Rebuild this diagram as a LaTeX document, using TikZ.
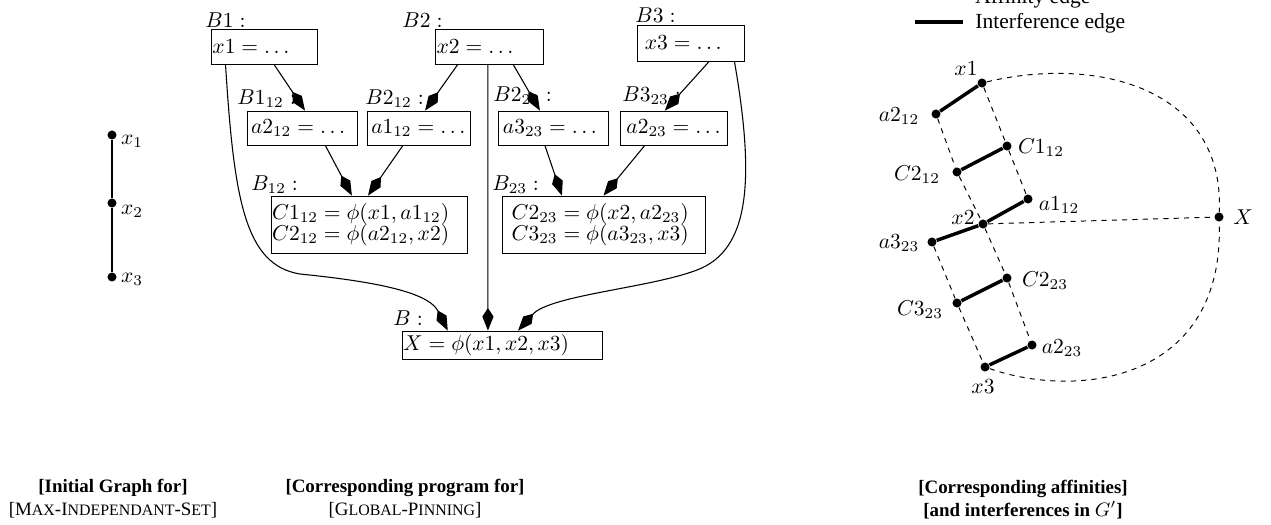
\documentclass[tikz,border=0pt]{standalone}
\usepackage{fontspec}
\setmainfont{Liberation Serif}
\usetikzlibrary{arrows.meta,calc}

\newcommand{\fsc}[1]{{\fontsize{7.4}{8}\selectfont #1}}

\tikzset{
  blk/.style={draw, line width=0.4pt, align=left, inner ysep=0pt},
  blab/.style={anchor=base west, inner sep=0pt},
  flow/.style={line width=0.5pt, -{Kite[length=10.5pt, width=5.2pt, inset=4pt]}},
  vtx/.style={circle, fill, inner sep=0pt, minimum size=4.2pt},
  vlab/.style={inner sep=0pt},
  intf/.style={line width=1.6pt},
  aff/.style={line width=0.45pt, dash pattern=on 2.4pt off 2.4pt},
  capt/.style={align=center, font=\fontsize{8.8}{10.7}\selectfont\bfseries},
}

\begin{document}
\begin{tikzpicture}[x=0.465pt, y=-0.465pt]
\useasboundingbox (0,0) rectangle (1271,524);

% initial graph
\node[vtx] (v1) at (112,135) {};
\node[vtx] (v2) at (112,203) {};
\node[vtx] (v3) at (112,277) {};
\node[vlab] (lv1) at (132,141) {$x_1$};
\node[vlab] (lv2) at (132,211) {$x_2$};
\node[vlab] (lv3) at (132,279) {$x_3$};
\draw[line width=0.9pt] (v1) -- (v2) -- (v3);

% program blocks
\node[blk, text width=47.9pt, inner xsep=0.7pt, minimum height=16.3pt] (bx1) at (264,46.5) {${x1 = \ldots}$};
\node[blk, text width=48.8pt, inner xsep=0.7pt, minimum height=16.3pt] (bx2) at (489,46.5) {${x2 = \ldots}$};
\node[blk, text width=42.4pt, inner xsep=3.7pt, minimum height=16.7pt] (bx3) at (690.5,43) {${x3 = \ldots}$};
\node[blk, text width=47.4pt, inner xsep=1.9pt, minimum height=15.8pt] (ba2) at (302,128) {${a2_{12} = \ldots}$};
\node[blk, text width=43.9pt, inner xsep=2pt, minimum height=15.8pt] (ba1) at (418.5,128) {${a1_{12} = \ldots}$};
\node[blk, text width=46.6pt, inner xsep=2.3pt, minimum height=15.8pt] (ba3) at (553,128) {${a3_{23} = \ldots}$};
\node[blk, text width=43.8pt, inner xsep=3pt, minimum height=15.8pt] (bb2) at (673.5,128) {${a2_{23} = \ldots}$};
\node[blk, text width=90.1pt, inner xsep=0.5pt, minimum height=26.5pt] (bc12) at (369,224.5)
  {${C1_{12} = \phi(x1, a1_{12})}$\\[-2.4pt] ${C2_{12} = \phi(a2_{12}, x2)}$};
\node[blk, text width=85.4pt, inner xsep=4.5pt, minimum height=26.5pt] (bc23) at (603.5,224.5)
  {${C2_{23} = \phi(x2, a2_{23})}$\\[-2.4pt] ${C3_{23} = \phi(a3_{23}, x3)}$};
\node[blk, text width=92pt, inner xsep=0.5pt, minimum height=13pt] (bX) at (502,345) {${X = \phi(x1, x2, x3)}$};

\node[blab] (lb1) at (205,27) {$B1:$};
\node[blab] (lb2) at (402,27) {$B2:$};
\node[blab] (lb3) at (635,22) {$B3:$};
\node[blab] (lb112) at (237,104) {$B1_{12}:$};
\node[blab] (lb212) at (365,104) {$B2_{12}:$};
\node[blab] (lb223) at (493,101) {$B2_{23}:$};
\node[blab] (lb323) at (622,101) {$B3_{23}:$};
\node[blab] (lb12) at (251,190) {$B_{12}:$};
\node[blab] (lb23) at (492,190) {$B_{23}:$};
\node[blab] (lb) at (393,325) {$B:$};

\draw[flow] ($(bx1.south west)!0.594!(bx1.south east)$) -- ($(ba2.north west)!0.527!(ba2.north east)$);
\draw[flow] ($(bx2.south west)!0.213!(bx2.south east)$) -- ($(ba1.north west)!0.563!(ba1.north east)$);
\draw[flow] ($(bx2.south west)!0.722!(bx2.south east)$) -- ($(ba3.north west)!0.382!(ba3.north east)$);
\draw[flow] ($(bx3.south west)!0.673!(bx3.south east)$) -- ($(bb2.north west)!0.42!(bb2.north east)$);
\draw[flow] ($(ba2.south west)!0.71!(ba2.south east)$) -- ($(bc12.north west)!0.413!(bc12.north east)$);
\draw[flow] ($(ba1.south west)!0.35!(ba1.south east)$) -- ($(bc12.north west)!0.495!(bc12.north east)$);
\draw[flow] ($(ba3.south west)!0.427!(ba3.south east)$) -- ($(bc23.north west)!0.296!(bc23.north east)$);
\draw[flow] ($(bb2.south west)!0.234!(bb2.south east)$) -- ($(bc23.north west)!0.5!(bc23.north east)$);
\draw[flow] ($(bx1.south west)!0.14!(bx1.south east)$) .. controls (234,200) and (245,265) .. (300,274)
  .. controls (390,283) and (430,295) .. ($(bX.north west)!0.23!(bX.north east)$);
\draw[flow] ($(bx2.south west)!0.49!(bx2.south east)$) -- ($(bX.north west)!0.43!(bX.north east)$);
\draw[flow] ($(bx3.south west)!0.907!(bx3.south east)$) .. controls (755,180) and (750,250) .. (697,270)
  .. controls (650,288) and (550,295) .. ($(bX.north west)!0.58!(bX.north east)$);

% legend
\coordinate (la0) at (915,-2); \coordinate (la1) at (963,-2);
\draw[aff] (la0) -- (la1);
\node[anchor=base west, inner sep=0pt] (laf) at (975,3) {Affinity edge};
\coordinate (li0) at (915,22); \coordinate (li1) at (963,22);
\draw[intf] (li0) -- (li1);
\node[anchor=west, inner sep=0pt] (lin) at (975,23.3) {Interference edge};

% affinities and interferences
\node[vtx] (gx1) at (982,83) {};
\node[vtx] (ga212) at (936,114) {};
\node[vtx] (gc112) at (1007,146) {};
\node[vtx] (gc212) at (957,172) {};
\node[vtx] (ga112) at (1028,199) {};
\node[vtx] (gx2) at (983,224) {};
\node[vtx] (ga323) at (932,242) {};
\node[vtx] (gX) at (1219,217) {};
\node[vtx] (gc223) at (1007,278) {};
\node[vtx] (gc323) at (957,303) {};
\node[vtx] (ga223) at (1032,345) {};
\node[vtx] (gx3) at (985,367) {};

\node[vlab] (lgx1) at (966,69) {$x1$};
\node[vlab] (lga212) at (899,116) {$a2_{12}$};
\node[vlab] (lgc112) at (1041,148) {$C1_{12}$};
\node[vlab] (lgc212) at (917,175) {$C2_{12}$};
\node[vlab] (lga112) at (1059,205) {$a1_{12}$};
\node[vlab] (lgx2) at (963,218) {$x2$};
\node[vlab] (lga323) at (899,243) {$a3_{23}$};
\node[vlab] (lgX) at (1243,217) {$X$};
\node[vlab] (lgc223) at (1045,281) {$C2_{23}$};
\node[vlab] (lgc323) at (920,310) {$C3_{23}$};
\node[vlab] (lga223) at (1062,348) {$a2_{23}$};
\node[vlab] (lgx3) at (983,387) {$x3$};

\draw[intf] (gx1) -- (ga212);
\draw[intf] (gc112) -- (gc212);
\draw[intf] (ga112) -- (gx2) -- (ga323);
\draw[intf] (gc223) -- (gc323);
\draw[intf] (ga223) -- (gx3);

\draw[aff] (gx1) -- (gc112) -- (ga112);
\draw[aff] (ga212) -- (gc212) -- (gx2) -- (gc223) -- (ga223);
\draw[aff] (ga323) -- (gc323) -- (gx3);
\draw[aff] (gx1) .. controls (1100,55) and (1225,90) .. (gX);
\draw[aff] (gx2) -- (gX);
\draw[aff] (gx3) .. controls (1080,400) and (1225,380) .. (gX);

% captions
\node[capt] (cap1) at (113,499) {[Initial Graph for]\\{\mdseries[M\fsc{AX}-I\fsc{NDEPENDANT}-S\fsc{ET}]}};
\node[capt] (cap2) at (405,499) {[Corresponding program for]\\{\mdseries[G\fsc{LOBAL}-P\fsc{INNING}]}};
\node[capt] (cap3) at (1023,500) {[Corresponding affinities]\\{[and interferences in $G'$]}};
\end{tikzpicture}
\end{document}
